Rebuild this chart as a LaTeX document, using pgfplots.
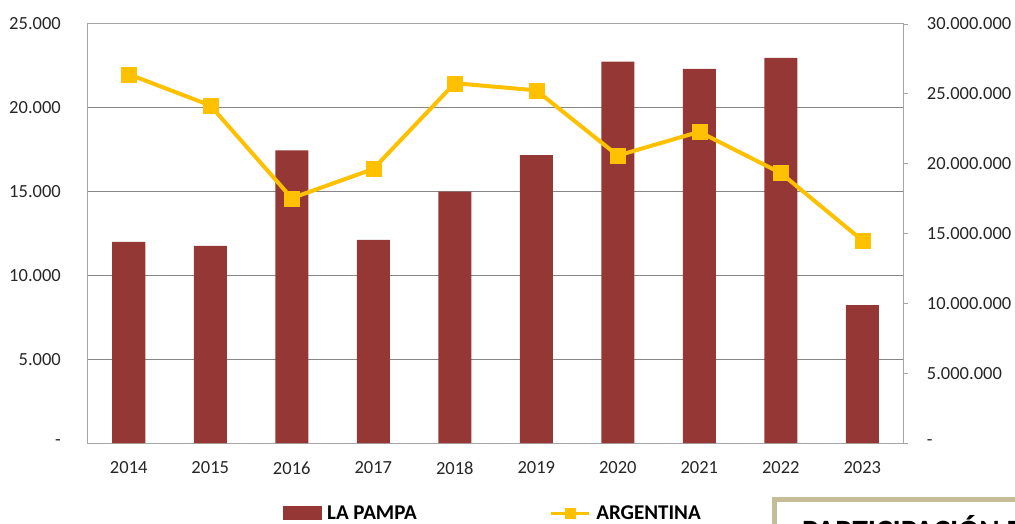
\documentclass[border=0pt]{standalone}
\usepackage{pgfplots}
\pgfplotsset{compat=1.18}
\usepackage{fontspec}
\setmainfont{Carlito}
\definecolor{barcol}{RGB}{149,55,53}
\definecolor{linecol}{RGB}{255,192,0}
\definecolor{gridc}{RGB}{134,134,134}
\definecolor{framec}{RGB}{166,166,166}
\definecolor{boxc}{RGB}{196,189,151}
\definecolor{txt}{RGB}{38,38,38}
\begin{document}
\begin{tikzpicture}[x=1pt,y=1pt]
\useasboundingbox (0,0) rectangle (1015,523);
\clip (0,0) rectangle (1015,523);
\begin{axis}[
  at={(88pt,80pt)}, anchor=south west, scale only axis,
  width=815pt, height=419pt,
  xmin=-0.5, xmax=9.5, ymin=0, ymax=25000,
  ybar, bar width=33pt,
  xtick={0,1,2,3,4,5,6,7,8,9},
  xticklabels={2014,2015,2016,2017,2018,2019,2020,2021,2022,2023},
  ytick={0,5000,10000,15000,20000,25000},
  yticklabels={-,5.000,10.000,15.000,20.000,25.000},
  scaled y ticks=false,
  ymajorgrids, grid style={gridc, line width=1pt},
  axis line style={framec, line width=1pt},
  major tick length=0pt,
  tick label style={font=\fontsize{18.5}{22}\selectfont, text=txt, inner sep=0pt},
  xticklabel style={anchor=north, yshift=-18.7pt},
  yticklabel style={anchor=east, xshift=-27pt},
]
\addplot[fill=barcol, draw=none] coordinates {(0,12000) (1,11760) (2,17460) (3,12120) (4,15000) (5,17180) (6,22760) (7,22320) (8,22980) (9,8220)};
\end{axis}
\begin{axis}[
  at={(88pt,80pt)}, anchor=south west, scale only axis,
  width=815pt, height=419pt,
  xmin=-0.5, xmax=9.5, ymin=0, ymax=30000000,
  axis x line=none, axis y line*=right,
  ytick={0,5000000,10000000,15000000,20000000,25000000,30000000},
  yticklabels={-,5.000.000,10.000.000,15.000.000,20.000.000,25.000.000,30.000.000},
  scaled y ticks=false,
  axis line style={framec, line width=1pt},
  tick style={framec, line width=1pt}, major tick length=5pt, tick align=outside,
  tick label style={font=\fontsize{18.5}{22}\selectfont, text=txt, inner sep=0pt},
  yticklabel style={anchor=west, xshift=18.7pt},
  legend columns=2,
  legend style={at={(axis description cs:0.2393,-0.1671)}, anchor=west,
    draw=none, fill=none, inner sep=0pt,
    font=\fontsize{21}{24}\selectfont\bfseries, text=black,
    nodes={inner sep=0pt},
    /tikz/every odd column/.style={column sep=5.5pt},
    /tikz/every even column/.style={column sep=133pt}},
  legend cell align=left,
]
\addlegendimage{legend image code/.code={\fill[barcol] (0pt,-6.5pt) rectangle (38pt,6.5pt);}}
\addlegendentry{LA PAMPA}
\addplot[linecol, line width=4pt, mark=square*, mark size=7.5pt, mark options={solid, line width=0.3pt},
  legend image code/.code={\draw[line width=3pt, mark size=5pt, mark repeat=2, mark phase=2] plot coordinates {(0pt,0pt) (19pt,0pt) (38pt,0pt)};}]
  coordinates {(0,26400000) (1,24170000) (2,17530000) (3,19620000) (4,25760000) (5,25250000) (6,20580000) (7,22280000) (8,19330000) (9,14510000)};
\addlegendentry{ARGENTINA}
\end{axis}
\draw[boxc, line width=5pt, fill=white] (774.5,-30) rectangle (1050,23.5);
\node[anchor=base west, font=\fontsize{31}{33}\selectfont\bfseries, inner sep=0pt] at (802,-18.5) {PARTICIPACIÓN DE LA PAMPA};
\end{tikzpicture}
\end{document}
